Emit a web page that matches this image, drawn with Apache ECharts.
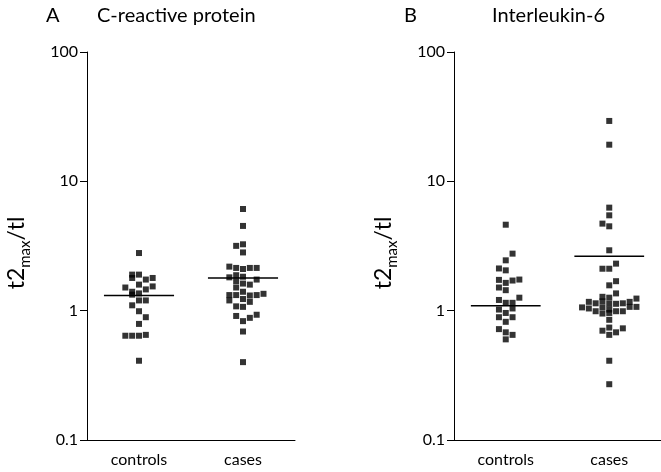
<!DOCTYPE html>
<html>
<head>
<meta charset="utf-8">
<script src="https://cdn.jsdelivr.net/npm/echarts@6/dist/echarts.min.js"></script>
<style>
  html, body { margin: 0; padding: 0; background: #fff; }
  #chart { width: 661px; height: 472px; }
</style>
</head>
<body>
<div id="chart"></div>
<script>
// Group labels and log-axis tick labels
const categories = ['controls', 'cases'];
const yTickLabels = ['0.1', '1', '10', '100'];

// Panel A: C-reactive protein (t2max/tl ratios)
const crpControls     = [2.79, 1.90, 1.90, 1.79, 1.74, 1.79, 1.51, 1.59, 1.46, 1.54, 1.40, 1.33,
                         1.36, 1.20, 1.20, 1.10, 0.99, 0.89, 0.79, 0.64, 0.64, 0.64, 0.65, 0.41];
const crpControlsSlot = [0, -1, 0, -1, 1, 2, -2, 0, 1, 2, -1, -1,
                         0, 0, 1, -1, 0, 1, 0, -2, -1, 0, 1, 0];
const crpCases        = [6.11, 4.52, 3.17, 3.26, 2.82, 2.19, 2.14, 2.10, 2.14, 2.14, 1.81, 1.88,
                         1.83, 1.74, 1.69, 1.51, 1.62, 1.59, 1.40, 1.32, 1.32, 1.31, 1.32, 1.35,
                         1.20, 1.23, 1.17, 1.08, 1.07, 0.91, 0.88, 0.93, 0.83, 0.69, 0.40];
const crpCasesSlot    = [0, 0, -1, 0, 0, -2, -1, 0, 1, 2, -2, -1,
                         0, 2, -1, -1, 0, 1, 0, -2, -1, 1, 2, 3,
                         -2, 0, 1, -1, 0, -1, 1, 2, 0, 0, 0];
const crpLine         = [1.31, 1.79];

// Panel B: Interleukin-6 (t2max/tl ratios)
const il6Controls     = [4.62, 2.76, 2.45, 2.12, 2.05, 1.73, 1.64, 1.71, 1.74, 1.51, 1.44, 1.21,
                         1.15, 1.15, 1.26, 1.02, 0.96, 1.04, 0.89, 0.89, 0.82, 0.72, 0.68, 0.65, 0.60];
const il6ControlsSlot = [0, 1, 0, -1, 0, -1, 0, 1, 2, -1, 0, -1,
                         0, 1, 2, -1, 0, 1, -1, 1, 0, -1, 0, 1, 0];
const il6Cases        = [29.3, 19.2, 6.26, 5.46, 4.71, 4.49, 2.93, 2.11, 2.11, 2.31, 1.57, 1.69,
                         1.36, 1.28, 1.26, 1.24,
                         1.17, 1.14, 1.18, 1.13, 1.13, 1.14, 1.17,
                         1.06, 1.04, 0.99, 1.06, 1.02, 0.99, 0.99, 1.07, 1.07,
                         0.95, 0.96, 0.85, 0.74, 0.70, 0.65, 0.68, 0.73, 0.41, 0.27];
const il6CasesSlot    = [0, 0, 0, 0, -1, 0, 0, -1, 0, 1, 0, 1,
                         1, -1, 0, 4,
                         -3, -2, -1, 0, 1, 2, 3,
                         -4, -3, -2, -1, 0, 1, 2, 3, 4,
                         -1, 0, 0, 0, -1, 0, 1, 2, 0, 0];
const il6Line         = [1.09, 2.63];

// horizontal spread of one dot column, in category units
const SLOT_STEP = 0.0657;
// half length of the summary bar, in category units
const BAR_HALF = 0.337;

const FONT = 'Lato, "Open Sans", sans-serif';

function dots(values, slots, catIndex) {
  return values.map((v, i) => [catIndex + slots[i] * SLOT_STEP, v]);
}
function bar(value, catIndex) {
  return [[catIndex - BAR_HALF, value], [catIndex + BAR_HALF, value]];
}

function categoryAxis(gridIndex) {
  return {
    type: 'category', gridIndex: gridIndex, data: categories, boundaryGap: true,
    axisLine: { onZero: false, lineStyle: { color: '#000', width: 1 } },
    axisTick: { alignWithLabel: true, length: 6, lineStyle: { color: '#000' } },
    axisLabel: { color: '#000', fontSize: 16, fontFamily: FONT, margin: 12 },
    splitLine: { show: false }
  };
}
function placementAxis(gridIndex) {
  return { type: 'value', gridIndex: gridIndex, min: -0.5, max: 1.5, show: false };
}
function logAxis(gridIndex) {
  return {
    type: 'log', logBase: 10, gridIndex: gridIndex, min: 0.1, max: 100,
    axisLine: { show: true, onZero: false, lineStyle: { color: '#000', width: 1 } },
    axisTick: { show: true, length: 7, lineStyle: { color: '#000' } },
    axisLabel: {
      color: '#000', fontSize: 16, fontFamily: FONT, margin: 9,
      formatter: function (v) {
        const k = Math.round(Math.log10(v)) + 1;
        return yTickLabels[k] !== undefined ? yTickLabels[k] : '';
      }
    },
    minorTick: { show: false },
    splitLine: { show: false },
    name: '{m|t2}{s|max}{m|/tl}',
    nameLocation: 'middle',
    nameRotate: 90,
    nameGap: 56,
    nameTextStyle: {
      padding: [0, 14, 0, 0],
      rich: {
        m: { fontSize: 23, fontFamily: FONT, color: '#000', lineHeight: 26, verticalAlign: 'top' },
        s: { fontSize: 15, fontFamily: FONT, color: '#000', lineHeight: 15, padding: [13, 0, 0, 0], verticalAlign: 'top' }
      }
    }
  };
}

function dotSeries(xIdx, yIdx, data) {
  return {
    type: 'scatter', xAxisIndex: xIdx, yAxisIndex: yIdx, data: data,
    symbol: 'rect', symbolSize: 6, itemStyle: { color: '#000' }, silent: true
  };
}
function barSeries(xIdx, yIdx, data) {
  return {
    type: 'line', xAxisIndex: xIdx, yAxisIndex: yIdx, data: data,
    symbol: 'none', lineStyle: { color: '#000', width: 1.5 }, silent: true, z: 3
  };
}

const titleStyle = { color: '#000', fontSize: 20, fontWeight: 'normal', fontFamily: FONT };

const chart = echarts.init(document.getElementById('chart'), null, { renderer: 'canvas' });
chart.setOption({
  animation: false,
  backgroundColor: '#fff',
  title: [
    { text: 'A', left: 46, top: 6, padding: 0, textStyle: titleStyle },
    { text: 'C-reactive protein', left: 97, top: 6, padding: 0, textStyle: titleStyle },
    { text: 'B', left: 404, top: 6, padding: 0, textStyle: titleStyle },
    { text: 'Interleukin-6', left: 492, top: 6, padding: 0, textStyle: titleStyle }
  ],
  grid: [
    { left: 87, top: 52, width: 208, height: 388 },
    { left: 454, top: 52, width: 208, height: 388 }
  ],
  xAxis: [categoryAxis(0), placementAxis(0), categoryAxis(1), placementAxis(1)],
  yAxis: [logAxis(0), logAxis(1)],
  series: [
    dotSeries(1, 0, dots(crpControls, crpControlsSlot, 0)),
    dotSeries(1, 0, dots(crpCases, crpCasesSlot, 1)),
    barSeries(1, 0, bar(crpLine[0], 0)),
    barSeries(1, 0, bar(crpLine[1], 1)),
    dotSeries(3, 1, dots(il6Controls, il6ControlsSlot, 0)),
    dotSeries(3, 1, dots(il6Cases, il6CasesSlot, 1)),
    barSeries(3, 1, bar(il6Line[0], 0)),
    barSeries(3, 1, bar(il6Line[1], 1))
  ]
});
</script>
</body>
</html>
